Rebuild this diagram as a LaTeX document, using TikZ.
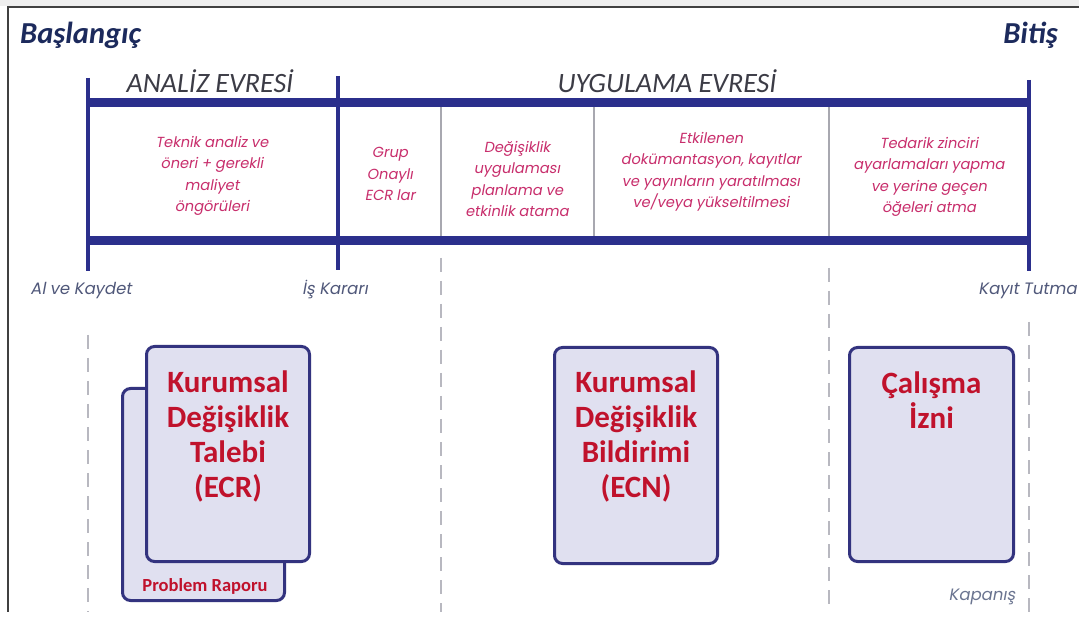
\documentclass[tikz,border=0pt]{standalone}
\usepackage{fontspec}
\setmainfont{Carlito}
\newfontfamily\geofont[FakeSlant=0.18]{Poppins}
\definecolor{barblue}{HTML}{2B2F8C}
\definecolor{boxline}{HTML}{33337F}
\definecolor{boxfill}{HTML}{E0E0F0}
\definecolor{doctxt}{HTML}{C0122C}
\definecolor{celltxt}{HTML}{C82E6C}
\definecolor{marktxt}{HTML}{50587A}
\definecolor{closetxt}{HTML}{6A7490}
\definecolor{phasetxt}{HTML}{3C3C46}
\definecolor{endtxt}{HTML}{1C2A5C}
\definecolor{divgrey}{HTML}{A8A8B0}
\definecolor{guidegrey}{HTML}{B8B8C0}
\definecolor{framegrey}{HTML}{404040}
\definecolor{stripgrey}{HTML}{EEEEEE}
\begin{document}
\begin{tikzpicture}[x=1pt,y=-1pt,
  phasebar/.style={draw=barblue, line width=9pt},
  marker/.style={draw=barblue, line width=4.5pt},
  divider/.style={draw=divgrey, line width=1.2pt},
  guide/.style={draw=guidegrey, line width=1.6pt, dash pattern=on 14pt off 9pt},
  celltext/.style={font=\geofont\fontsize{14.6}{21.5}\selectfont, text=celltxt, align=center, inner sep=0pt},
  marklabel/.style={font=\geofont\fontsize{16.5}{18}\selectfont, text=marktxt, inner sep=0pt, anchor=base},
  phaselabel/.style={font=\itshape\fontsize{28}{30}\selectfont, text=phasetxt, inner sep=0pt, anchor=base},
  endlabel/.style={font=\bfseries\itshape\fontsize{30.5}{32}\selectfont, text=endtxt, inner sep=0pt},
  docbox/.style={draw=boxline, line width=3pt, fill=boxfill, rounded corners=8pt, inner sep=0pt},
  doctitle/.style={font=\bfseries\fontsize{31}{35}\selectfont, text=doctxt, align=center, inner sep=0pt, anchor=north}
]
\useasboundingbox (0,0) rectangle (1079,617);
\fill[white] (0,0) rectangle (1079,617);
\fill[stripgrey] (0,0) rectangle (1079,6);
% page frame
\coordinate (frameTR) at (1079,7);
\coordinate (frameTL) at (8,7);
\coordinate (frameBL) at (8,612);
\draw[framegrey, line width=2pt] (frameTR) -- (frameTL) -- (frameBL);

% start / end labels
\node[endlabel, anchor=base west] (start) at (20,44) {Başlangıç};
\node[endlabel, anchor=base east] (finish) at (1058,44) {Bitiş};

% phase labels
\node[phaselabel] (analysis) at (210,93) {ANALİZ EVRESİ};
\node[phaselabel] (implement) at (667,93) {UYGULAMA EVRESİ};

% timeline frame
\coordinate (topL) at (88,103);
\coordinate (topR) at (1029,103);
\coordinate (botL) at (88,241);
\coordinate (botR) at (1029,241);
\draw[phasebar] (topL) -- (topR);
\draw[phasebar] (botL) -- (botR);

\coordinate (m1t) at (88,78);   \coordinate (m1b) at (88,271);
\coordinate (m2t) at (338,76);  \coordinate (m2b) at (338,270);
\coordinate (m3t) at (1029,80); \coordinate (m3b) at (1029,271);
\draw[marker] (m1t) -- (m1b);
\draw[marker] (m2t) -- (m2b);
\draw[marker] (m3t) -- (m3b);

% cell dividers
\foreach \x/\n in {441/d1, 594/d2, 829/d3} {
  \coordinate (\n t) at (\x,107.5);
  \coordinate (\n b) at (\x,236.5);
  \draw[divider] (\n t) -- (\n b);
}

% cell texts
\node[celltext] (c1) at (212,176) {Teknik analiz ve\\öneri + gerekli\\maliyet\\öngörüleri};
\node[celltext] (c2) at (390,174) {Grup\\Onaylı\\ECR lar};
\node[celltext] (c3) at (517,179) {Değişiklik\\uygulaması\\planlama ve\\etkinlik atama};
\node[celltext] (c4) at (711,172) {Etkilenen\\dokümantasyon, kayıtlar\\ve yayınların yaratılması\\ve/veya yükseltilmesi};
\node[celltext] (c5) at (929,177) {Tedarik zinciri\\ayarlamaları yapma\\ve yerine geçen\\öğeleri atma};

% milestone labels
\node[marklabel] (receive) at (81,295) {Al ve Kaydet};
\node[marklabel] (decision) at (335,295) {İş Kararı};
\node[marklabel, anchor=base east] (records) at (1077,295) {Kayıt Tutma};

% dashed guides
\coordinate (g1t) at (88,335);   \coordinate (g1b) at (88,612);
\coordinate (g2t) at (441,258);  \coordinate (g2b) at (441,612);
\coordinate (g3t) at (829,268);  \coordinate (g3b) at (829,612);
\coordinate (g4t) at (1029,322); \coordinate (g4b) at (1029,612);
\draw[guide] (g1t) -- (g1b);
\draw[guide] (g2t) -- (g2b);
\draw[guide] (g3t) -- (g3b);
\draw[guide] (g4t) -- (g4b);

% documents
\node[docbox, minimum width=162pt, minimum height=212pt] (report) at (203.5,494.5) {};
\node[font=\bfseries\fontsize{18.5}{20}\selectfont, text=doctxt, inner sep=0pt, anchor=base] (reportlbl) at (205,591) {Problem Raporu};
\node[docbox, minimum width=163pt, minimum height=215pt] (ecr) at (228,454) {};
\node[doctitle] (ecrlbl) at (228,371) {Kurumsal\\Değişiklik\\Talebi\\(ECR)};
\node[docbox, minimum width=163pt, minimum height=216pt] (ecn) at (636,455.5) {};
\node[doctitle] (ecnlbl) at (636,371) {Kurumsal\\Değişiklik\\Bildirimi\\(ECN)};
\node[docbox, minimum width=164pt, minimum height=214pt] (permit) at (931.5,454.5) {};
\node[doctitle] (permitlbl) at (931.5,372) {Çalışma\\İzni};

\node[font=\geofont\fontsize{16.5}{18}\selectfont, text=closetxt, inner sep=0pt, anchor=base] (closing) at (982,600) {Kapanış};
\end{tikzpicture}
\end{document}
